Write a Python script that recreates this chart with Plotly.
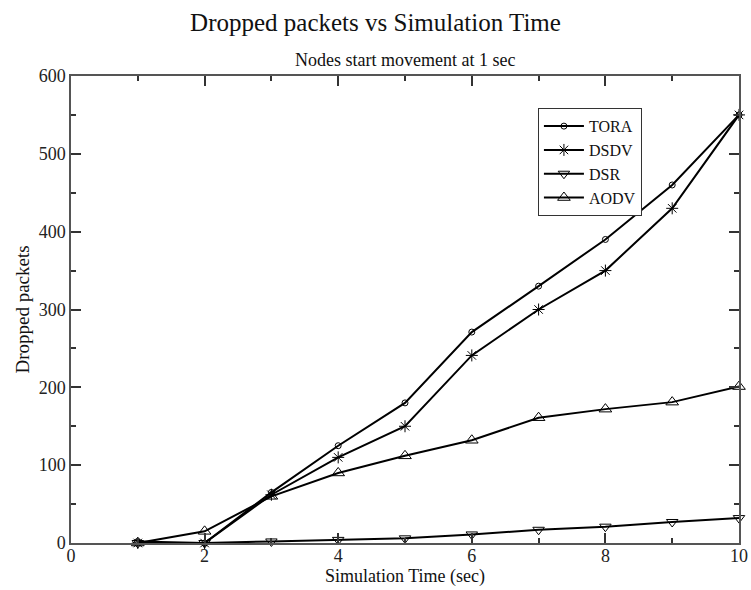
import plotly.graph_objects as go

time_sec = [1, 2, 3, 4, 5, 6, 7, 8, 9, 10]
tora = [2, 0, 65, 125, 180, 271, 330, 390, 460, 550]
dsdv = [0, 0, 62, 110, 150, 241, 300, 350, 430, 550]
dsr = [0, 0, 2, 4, 6, 11, 17, 21, 27, 32]
aodv = [0, 15, 60, 90, 112, 132, 161, 172, 181, 201]

series = [
    ("TORA", tora, "circle-open", 6),
    ("DSDV", dsdv, "asterisk-open", 10),
    ("DSR", dsr, "triangle-down-open", 10),
    ("AODV", aodv, "triangle-up-open", 11),
]

FONT = "Liberation Serif"
fig = go.Figure()
for name, vals, sym, sz in series:
    fig.add_trace(go.Scatter(
        x=time_sec, y=vals, name=name, mode="lines+markers", cliponaxis=False,
        line=dict(color="black", width=2),
        marker=dict(symbol=sym, size=sz, color="black", line=dict(color="black", width=1)),
    ))

axis_common = dict(
    showgrid=False, zeroline=False, showline=True, linecolor="#555555", linewidth=1.5,
    mirror="allticks", ticks="inside", ticklen=10, tickcolor="#333333", tickwidth=1.5,
    automargin=False,
    tickfont=dict(family=FONT, size=18, color="#222222"),
)
fig.update_layout(
    width=751, height=590,
    margin=dict(l=71, r=12, t=76, b=47),
    paper_bgcolor="white", plot_bgcolor="white",
    font=dict(family=FONT, color="#111111"),
    title=dict(text="Dropped packets vs Simulation Time", x=0.5, xanchor="center",
               yref="container", y=0.963, yanchor="middle",
               font=dict(family=FONT, size=25, color="#111111")),
    showlegend=True,
    legend=dict(x=0.699, y=0.931, xanchor="left", yanchor="top",
                bordercolor="#333333", borderwidth=1, bgcolor="white",
                font=dict(family=FONT, size=16, color="#111111"),
                tracegroupgap=0, itemwidth=40),
    xaxis=dict(range=[0, 10], tickvals=[0, 2, 4, 6, 8, 10], ticklabelstandoff=-4,
               minor=dict(ticks="inside", ticklen=5, dtick=1, tickcolor="#333333", tickwidth=1.5),
               title=dict(text="Simulation Time (sec)", standoff=4,
                          font=dict(family=FONT, size=18, color="#111111")),
               **axis_common),
    yaxis=dict(range=[0, 600], tickvals=[0, 100, 200, 300, 400, 500, 600],
               minor=dict(ticks="inside", ticklen=5, dtick=50, tickcolor="#333333", tickwidth=1.5),
               title=dict(text="Dropped packets", standoff=4,
                          font=dict(family=FONT, size=19, color="#111111")),
               **axis_common),
    annotations=[dict(text="Nodes start movement at 1 sec", xref="paper", yref="paper",
                      x=0.5, y=1.0, yshift=16, xanchor="center", yanchor="middle",
                      showarrow=False, font=dict(family=FONT, size=18, color="#111111"))],
)
fig.write_html("out.html")
